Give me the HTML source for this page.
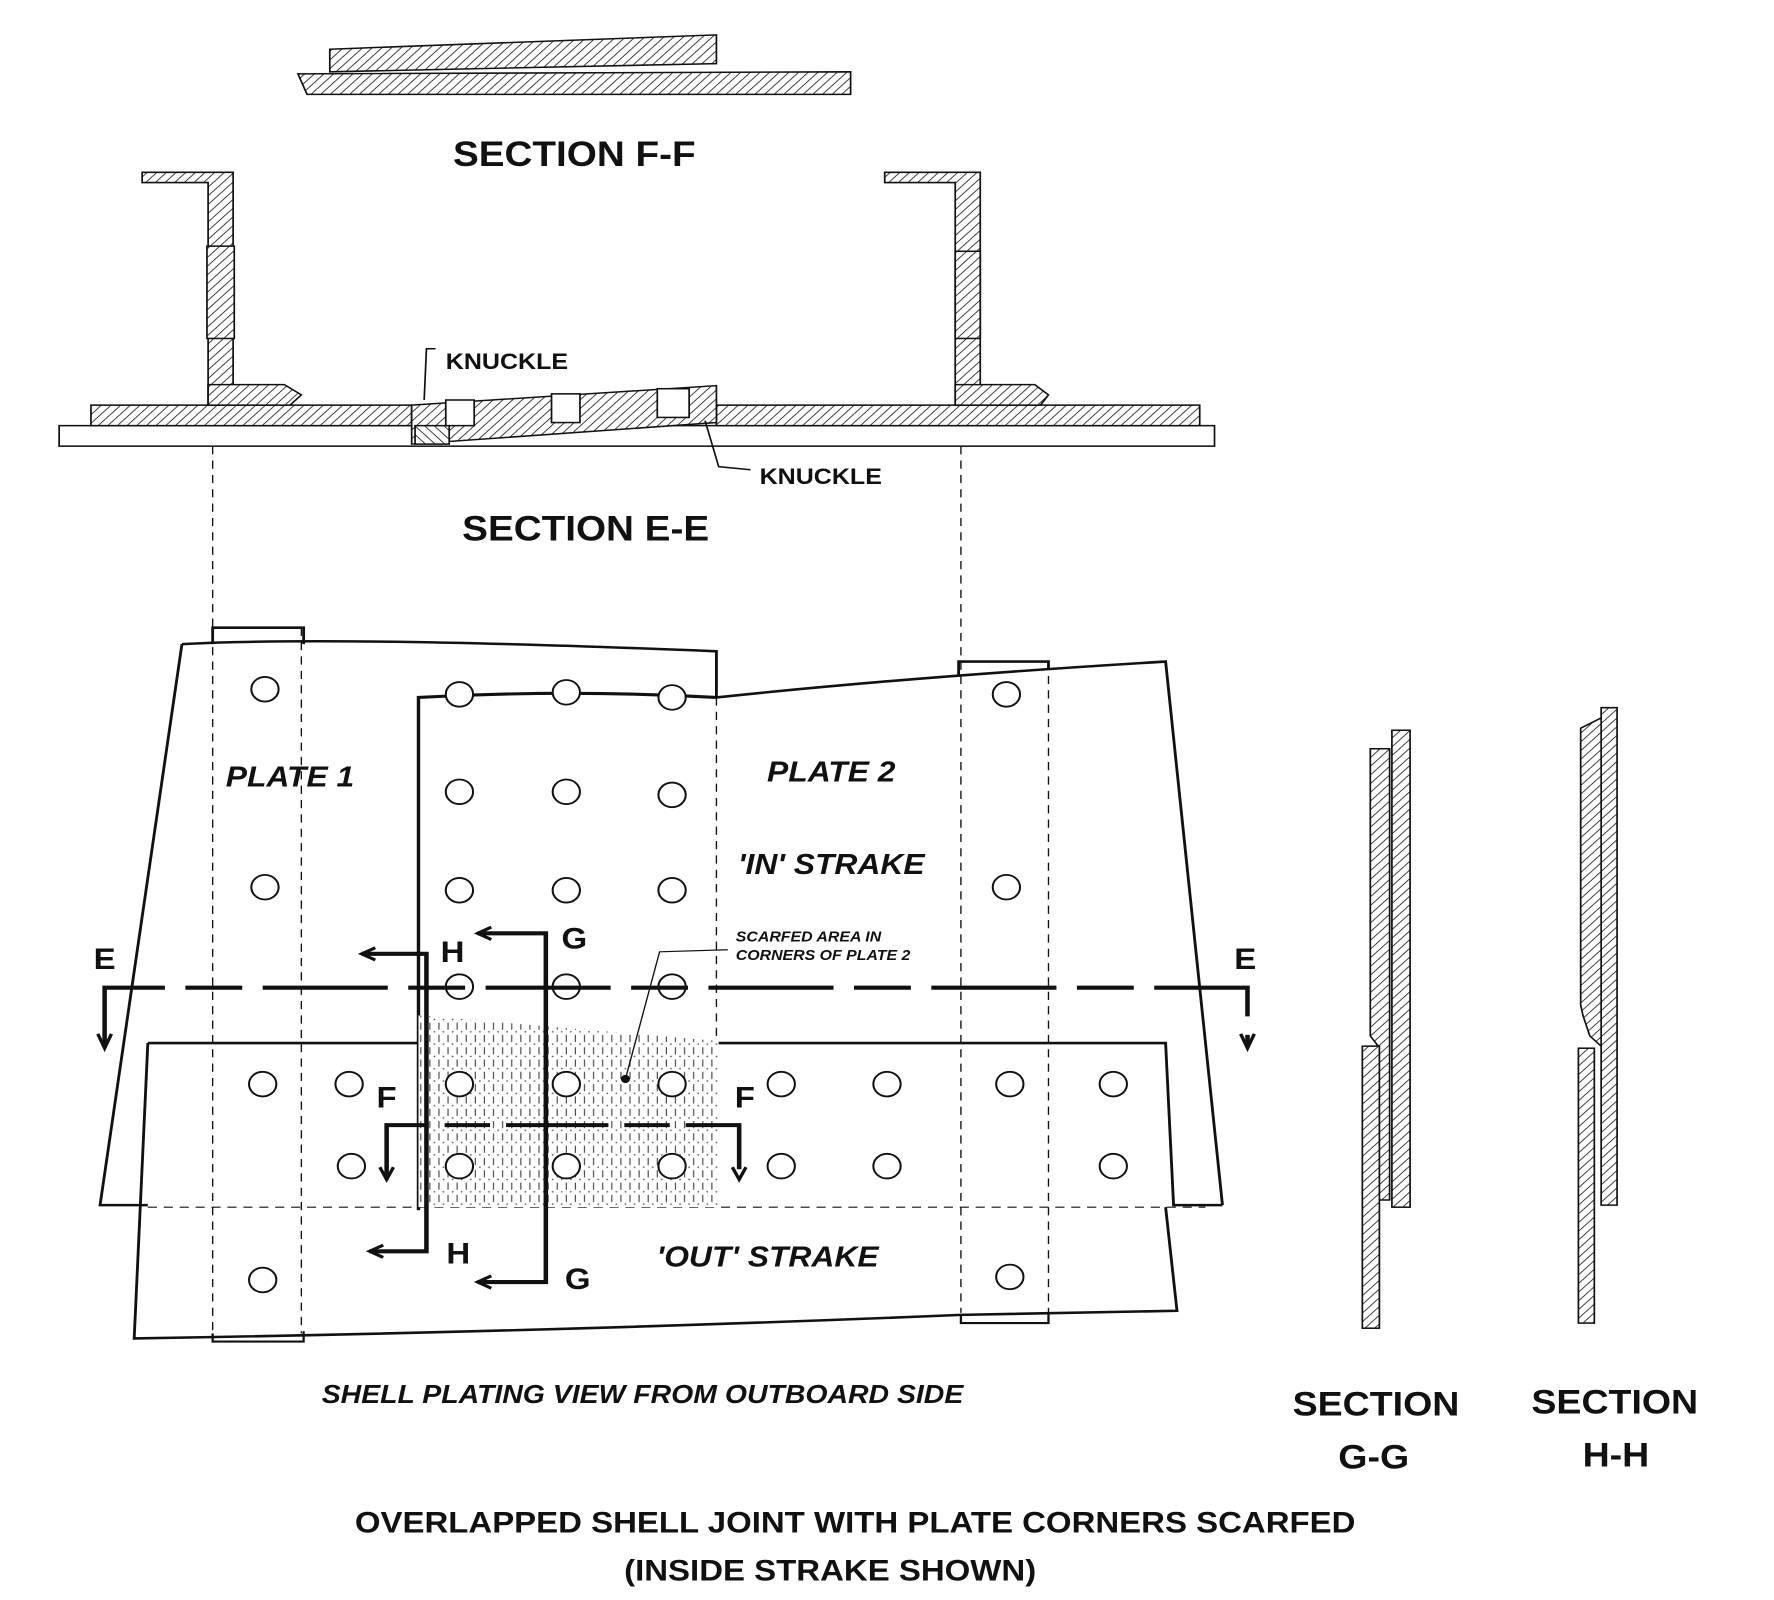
<!DOCTYPE html>
<html><head><meta charset="utf-8"><style>
html,body{margin:0;padding:0;background:#fff;}
svg{display:block;}
text{font-family:"Liberation Sans",sans-serif;font-weight:bold;fill:#111;}
</style></head><body>
<svg width="1774" height="1600" viewBox="0 0 1560 1560" preserveAspectRatio="none" xmlns="http://www.w3.org/2000/svg">
<defs>
<pattern id="h1" width="6" height="6" patternUnits="userSpaceOnUse" patternTransform="rotate(45)"><rect width="6" height="6" fill="#fff"/><line x1="0" y1="0" x2="0" y2="6" stroke="#222" stroke-width="1.6"/></pattern>
<pattern id="h2" width="6" height="6" patternUnits="userSpaceOnUse" patternTransform="rotate(-45)"><rect width="6" height="6" fill="#fff"/><line x1="0" y1="0" x2="0" y2="6" stroke="#222" stroke-width="1.6"/></pattern>
<pattern id="st" width="8" height="12" patternUnits="userSpaceOnUse"><rect width="8" height="12" fill="#fff"/><line x1="2" y1="1" x2="2" y2="8" stroke="#444" stroke-width="1"/><circle cx="6" cy="10" r="0.8" fill="#555"/></pattern>
</defs>
<g stroke="#111" stroke-width="1.5">
<g>
<polygon points="290,48 630,34 630,62 290,70" fill="url(#h1)"/>
<polygon points="262,72 748,70 748,92 270,92" fill="url(#h1)"/>
</g>
<g>
<rect x="52" y="415" width="1016" height="20" fill="#fff"/>
<rect x="80" y="395" width="282" height="20" fill="url(#h1)"/>
<rect x="630" y="395" width="425" height="20" fill="url(#h1)"/>
<polygon points="362,395 630,376 630,412 362,433" fill="url(#h1)"/>
<rect x="365" y="415" width="30" height="18" fill="url(#h2)"/>
<rect x="392" y="390" width="25" height="25" fill="#fff"/>
<rect x="485" y="384" width="25" height="28" fill="#fff"/>
<rect x="578" y="379" width="28" height="28" fill="#fff"/>
<polygon points="125,168 205,168 205,395 183,395 183,178 125,178" fill="url(#h1)"/>
<rect x="182" y="240" width="24" height="90" fill="url(#h1)"/>
<polygon points="183,375 250,375 265,385 255,395 183,395" fill="url(#h1)"/>
<polygon points="778,168 862,168 862,395 840,395 840,178 778,178" fill="url(#h1)"/>
<rect x="840" y="245" width="22" height="85" fill="url(#h1)"/>
<polygon points="840,375 910,375 922,385 915,395 840,395" fill="url(#h1)"/>
<polyline points="383,340 375,340 373,390" fill="none"/>
<polyline points="620,410 632,455 660,458" fill="none"/>
</g>
<g stroke-dasharray="8,6" stroke-width="1.2" fill="none">
<line x1="187" y1="435" x2="187" y2="1300"/><line x1="265" y1="612" x2="265" y2="1300"/>
<line x1="845" y1="435" x2="845" y2="1280"/><line x1="922" y1="645" x2="922" y2="1280"/>
<line x1="630" y1="680" x2="630" y2="1177"/>
<line x1="130" y1="1177" x2="1060" y2="1177"/>
</g>
<g fill="none" stroke-width="2.5">
<path d="M160,628 Q300,620 630,635 L630,680"/>
<path d="M630,680 Q800,660 1025,645 L1075,1175"/>
<path d="M160,628 L88,1175 L130,1175"/>
<path d="M368,1180 L368,680 Q500,672 630,680" stroke-width="3"/>
<path d="M130,1017 L1025,1017 L1032,1175 L1075,1175"/>
<path d="M130,1017 L118,1305 Q500,1298 845,1282 L1035,1278 L1025,1177"/>
<path d="M187,628 L187,612 L267,612 L267,628 M843,660 L843,645 L922,645 L922,652"/>
<path d="M187,1300 L187,1308 L267,1308 L267,1298 M845,1282 L845,1290 L922,1290 L922,1280" stroke-width="2"/>
</g>
<polygon points="368,990 632,1015 632,1177 368,1177" fill="url(#st)" stroke="none"/>
</g>
<g fill="#fff" stroke="#111" stroke-width="1.8">
<circle cx="233" cy="672" r="12"/><circle cx="233" cy="865" r="12"/><circle cx="231" cy="1057" r="12"/><circle cx="231" cy="1248" r="12"/>
<circle cx="404" cy="677" r="12"/><circle cx="498" cy="675" r="12"/><circle cx="591" cy="680" r="12"/>
<circle cx="404" cy="772" r="12"/><circle cx="498" cy="772" r="12"/><circle cx="591" cy="775" r="12"/>
<circle cx="404" cy="868" r="12"/><circle cx="498" cy="868" r="12"/><circle cx="591" cy="868" r="12"/>
<circle cx="404" cy="962" r="12"/><circle cx="498" cy="962" r="12"/><circle cx="591" cy="962" r="12"/>
<circle cx="307" cy="1057" r="12"/><circle cx="404" cy="1057" r="12"/><circle cx="498" cy="1057" r="12"/><circle cx="591" cy="1057" r="12"/><circle cx="687" cy="1057" r="12"/><circle cx="780" cy="1057" r="12"/><circle cx="888" cy="1057" r="12"/><circle cx="979" cy="1057" r="12"/>
<circle cx="309" cy="1137" r="12"/><circle cx="404" cy="1137" r="12"/><circle cx="498" cy="1137" r="12"/><circle cx="591" cy="1137" r="12"/><circle cx="687" cy="1137" r="12"/><circle cx="780" cy="1137" r="12"/><circle cx="979" cy="1137" r="12"/>
<circle cx="885" cy="677" r="12"/><circle cx="885" cy="865" r="12"/><circle cx="888" cy="1245" r="12"/>
</g>
<g stroke="#111" stroke-width="4" fill="none">
<path d="M92,1020 L92,963 L1097,963 L1097,1020" stroke-dasharray="110,18,50,18"/>
<path d="M86,1008 L92,1022 L98,1008 M1091,1008 L1097,1022 L1103,1008" stroke-width="3"/>
<path d="M318,930 L375,930 L375,1220 L325,1220"/>
<path d="M420,910 L480,910 L480,1250 L420,1250"/>
<path d="M340,1150 L340,1097 L650,1097 L650,1150" stroke-dasharray="90,14,40,14"/>
<path d="M330,924 L318,930 L330,936 M337,1214 L325,1220 L337,1226 M432,904 L420,910 L432,916 M432,1244 L420,1250 L432,1256 M334,1138 L340,1150 L346,1138 M644,1138 L650,1150 L656,1138" stroke-width="3"/>
<path d="M640,926 L580,928 L550,1052" stroke-width="1.2"/>
</g>
<circle cx="550" cy="1052" r="4" fill="#111"/>
<g stroke="#111" stroke-width="1.5">
<rect x="1224" y="712" width="16" height="465" fill="url(#h1)"/>
<polygon points="1205,730 1222,730 1222,1170 1212,1170 1212,1020 1205,1010" fill="url(#h1)"/>
<rect x="1198" y="1020" width="15" height="275" fill="url(#h1)"/>
</g>
<g stroke="#111" stroke-width="1.5">
<polygon points="1408,690 1422,690 1422,1175 1408,1175" fill="url(#h1)"/>
<polygon points="1390,710 1408,700 1408,1020 1398,1010 1392,990 1390,980" fill="url(#h1)"/>
<rect x="1388" y="1022" width="14" height="268" fill="url(#h1)"/>
</g>
<text x="505" y="162" font-size="34" text-anchor="middle">SECTION F-F</text>
<text x="392" y="360" font-size="22">KNUCKLE</text>
<text x="668" y="472" font-size="22">KNUCKLE</text>
<text x="515" y="527" font-size="34" text-anchor="middle">SECTION E-E</text>
<text x="255" y="767" font-size="28" text-anchor="middle" font-style="italic">PLATE 1</text>
<text x="731" y="762" font-size="28" text-anchor="middle" font-style="italic">PLATE 2</text>
<text x="731" y="852" font-size="28" text-anchor="middle" font-style="italic">'IN' STRAKE</text>
<text x="675" y="1235" font-size="28" text-anchor="middle" font-style="italic">'OUT' STRAKE</text>
<text x="647" y="918" font-size="14" font-style="italic">SCARFED AREA IN</text>
<text x="647" y="936" font-size="14" font-style="italic">CORNERS OF PLATE 2</text>
<text x="565" y="1368" font-size="25" text-anchor="middle" font-style="italic">SHELL PLATING VIEW FROM OUTBOARD SIDE</text>
<text x="92" y="945" font-size="29" text-anchor="middle">E</text>
<text x="1095" y="945" font-size="29" text-anchor="middle">E</text>
<text x="398" y="938" font-size="29" text-anchor="middle">H</text>
<text x="403" y="1232" font-size="29" text-anchor="middle">H</text>
<text x="505" y="925" font-size="29" text-anchor="middle">G</text>
<text x="508" y="1257" font-size="29" text-anchor="middle">G</text>
<text x="340" y="1080" font-size="29" text-anchor="middle">F</text>
<text x="655" y="1080" font-size="29" text-anchor="middle">F</text>
<text x="1210" y="1380" font-size="33" text-anchor="middle">SECTION</text>
<text x="1208" y="1432" font-size="33" text-anchor="middle">G-G</text>
<text x="1420" y="1378" font-size="33" text-anchor="middle">SECTION</text>
<text x="1421" y="1430" font-size="33" text-anchor="middle">H-H</text>
<text x="752" y="1494" font-size="29" text-anchor="middle">OVERLAPPED SHELL JOINT WITH PLATE CORNERS SCARFED</text>
<text x="730" y="1541" font-size="29" text-anchor="middle">(INSIDE STRAKE SHOWN)</text>
</svg>
</body></html>
